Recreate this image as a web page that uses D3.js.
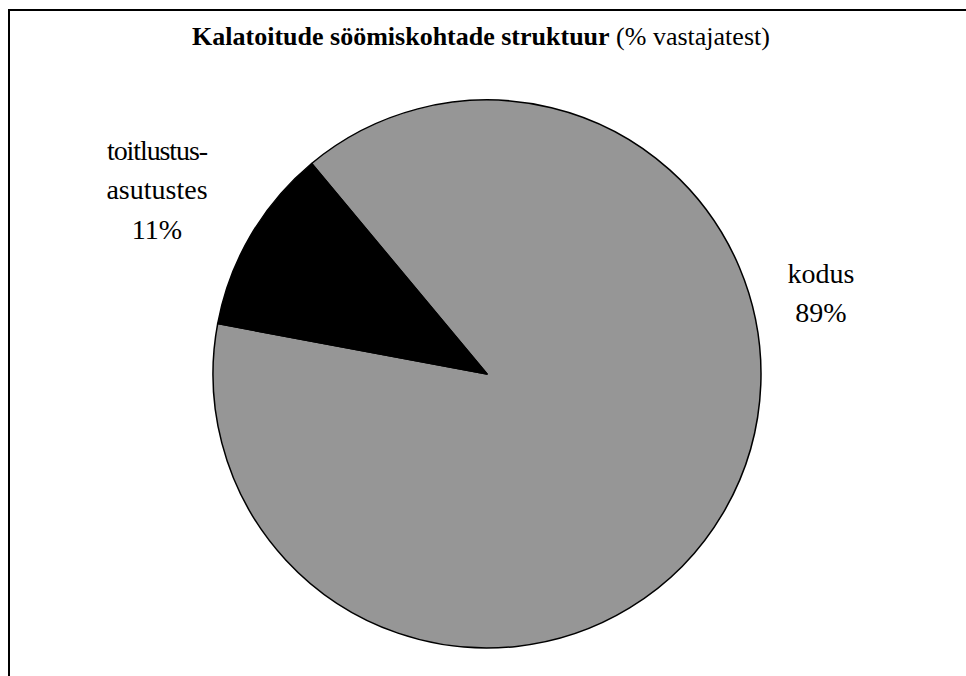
<!DOCTYPE html>
<html>
<head>
<meta charset="utf-8">
<script src="https://cdn.jsdelivr.net/npm/d3@7/dist/d3.min.js"></script>
<style>
  html, body { margin: 0; padding: 0; background: #fff; }
</style>
</head>
<body>
<svg id="chart" width="966" height="676"></svg>
<script>
// data
var categories = ['kodus', 'toitlustus-asutustes'];
var labelLines = [['kodus', '89%'], ['toitlustus-', 'asutustes', '11%']];
var values = [89, 11];
var colors = ['#969696', '#000000'];

var width = 966,
    height = 676,
    cx = 487,
    cy = 374,
    radius = 274,
    startDeg = -39.8,
    font = "'Liberation Serif', 'Times New Roman', 'DejaVu Serif', serif";

var svg = d3.select('#chart');

// frame (only top and left edges are visible)
svg.append('path')
    .attr('d', 'M9,676 V10 H966')
    .attr('fill', 'none')
    .attr('stroke', '#000')
    .attr('stroke-width', 2);

// title
var title = svg.append('text')
    .attr('x', 481)
    .attr('y', 45)
    .attr('text-anchor', 'middle')
    .attr('font-family', font)
    .attr('font-size', 26);
title.append('tspan').attr('font-weight', 'bold').text('Kalatoitude söömiskohtade struktuur');
title.append('tspan').text(' (% vastajatest)');

var pie = d3.pie()
    .value(function (d) { return d; })
    .sort(null)
    .startAngle(startDeg * Math.PI / 180)
    .endAngle(startDeg * Math.PI / 180 + 2 * Math.PI);

var arc = d3.arc().innerRadius(0).outerRadius(radius);

var g = svg.append('g').attr('transform', 'translate(' + cx + ',' + cy + ')');

g.selectAll('path')
    .data(pie(values))
    .enter()
    .append('path')
    .attr('d', arc)
    .attr('fill', function (d, i) { return colors[i]; })
    .attr('stroke', '#000')
    .attr('stroke-width', 1.5)
    .attr('stroke-linejoin', 'round');

// labels: placed at the right / upper left like the original
var labelPos = [[821, 283], [157, 160]];
var lineH = 39.3;

labelLines.forEach(function (lines, i) {
    var t = svg.append('text')
        .attr('text-anchor', 'middle')
        .attr('font-family', font)
        .attr('font-size', 28)
        .attr('fill', '#000');
    lines.forEach(function (s, j) {
        t.append('tspan')
            .attr('x', labelPos[i][0])
            .attr('y', labelPos[i][1] + j * lineH)
            .attr('letter-spacing', s === 'toitlustus-' ? -1.1 : 0)
            .text(s);
    });
});
</script>
</body>
</html>
